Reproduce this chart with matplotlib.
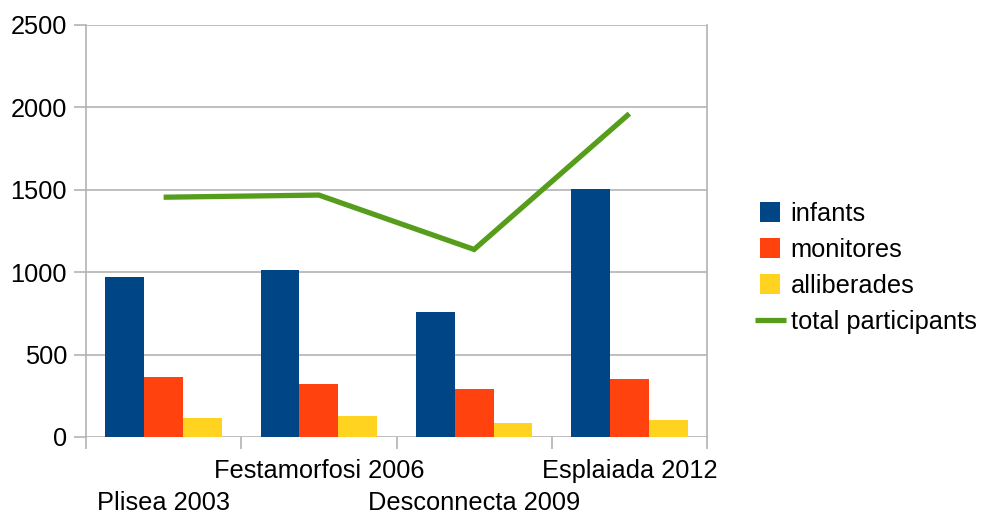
import matplotlib
matplotlib.use("Agg")
import matplotlib.pyplot as plt
import matplotlib.transforms as mtransforms
from matplotlib.lines import Line2D
import numpy as np

categories = ["Plisea 2003", "Festamorfosi 2006", "Desconnecta 2009", "Esplaiada 2012"]
infants = [972, 1014, 761, 1502]
monitores = [363, 321, 291, 351]
alliberades = [116, 128, 86, 104]
total = [1455, 1468, 1138, 1962]
series_names = ["infants", "monitores", "alliberades", "total participants"]
yticks = [0, 500, 1000, 1500, 2000, 2500]

colors = ["#004586", "#ff420e", "#ffd320", "#579d1c"]
grid_c = "#b3b3b3"

plt.rcParams['font.family'] = ['Liberation Sans', 'DejaVu Sans']
FS = 18.3

fig = plt.figure(figsize=(9.83, 5.14), dpi=100)
W, H = 983, 514
left, right, top, bottom = 86, 707, 25, 437
ax = fig.add_axes([left / W, 1 - bottom / H, (right - left) / W, (bottom - top) / H])

n = len(categories)
x = np.arange(n) + 0.5
bw = 0.25
ax.bar(x - bw, infants, bw, color=colors[0], zorder=3)
ax.bar(x, monitores, bw, color=colors[1], zorder=3)
ax.bar(x + bw, alliberades, bw, color=colors[2], zorder=3)
ax.plot(x, total, color=colors[3], lw=3.8, zorder=4,
        solid_joinstyle='miter', solid_capstyle='butt')

ax.set_xlim(0, n)
ax.set_ylim(0, 2500)
ax.set_yticks(yticks)
ax.set_yticklabels([str(v) for v in yticks], fontsize=FS)
ax.set_xticks(np.arange(n + 1))
ax.set_xticklabels([])
ax.yaxis.grid(True, color=grid_c, lw=1.2, zorder=0)
ax.tick_params(axis='both', direction='out', length=8.6, width=1.2, color=grid_c, pad=5)
for s in ['left', 'right']:
    ax.spines[s].set_color(grid_c)
    ax.spines[s].set_linewidth(1.2)
ax.spines['bottom'].set_visible(False)
ax.spines['top'].set_visible(False)

trans = mtransforms.blended_transform_factory(ax.transData, fig.transFigure)
for i, lab in enumerate(categories):
    yy = 1 - (503 if i % 2 == 0 else 471) / H
    ax.text(x[i], yy, lab, transform=trans, ha='center', va='center', fontsize=FS)

handles = [Line2D([], [], ls='none', marker='s', markersize=14.4, markeredgewidth=0,
                  markerfacecolor=colors[i]) for i in range(3)]
handles.append(Line2D([], [], color=colors[3], lw=3.8, solid_capstyle='butt'))
leg = fig.legend(handles, series_names, loc='center left',
                 bbox_to_anchor=(755 / W, 1 - 268 / H), frameon=False,
                 fontsize=FS, handlelength=1.2, handleheight=0.8, handletextpad=0.2,
                 labelspacing=0.47, borderaxespad=0, borderpad=0)

fig.savefig("out.png", dpi=100)
